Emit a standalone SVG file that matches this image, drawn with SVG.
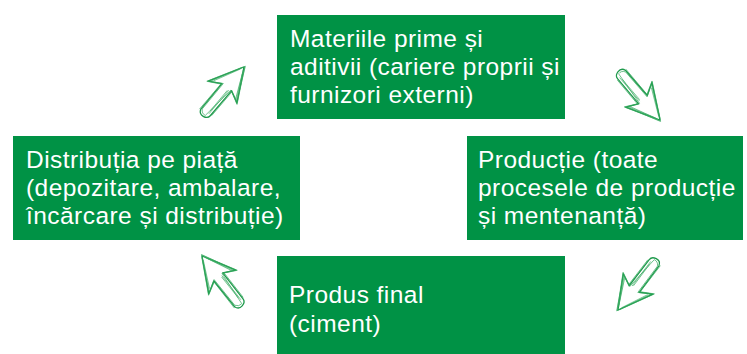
<svg xmlns="http://www.w3.org/2000/svg" width="747" height="354" viewBox="0 0 747 354">
<style>
.box{fill:#009245;}
.t{font-family:"Liberation Sans",Arial,sans-serif;font-size:24.5px;fill:#ffffff;letter-spacing:0.45px;}
.ao{fill:#ffffff;stroke:#1f9a4c;stroke-width:1.3;stroke-linejoin:round;}
.aj{fill:none;stroke:#2fa65a;stroke-width:0.9;opacity:0.7;stroke-linejoin:round;}
.ah{fill:none;stroke:#3aab62;stroke-width:0.8;opacity:0.8;stroke-linecap:round;}
</style>
<defs>
<g id="arrow">
<path class="ao" d="M0,0 L-34,-18 L-27,-6 L-60,-5.5 Q-65,-4 -64,1 Q-63,6 -59,6 L-26,6 L-32,18 Z"/>
<path class="aj" d="M1.5,0.5 L-33,-16.5 L-26,-5 L-59,-4.5 Q-63,-2 -62,2 L-26,5 L-31,17 Z"/>
<path class="aj" d="M-1,-1 L-35,-19 L-28,-6.5 L-61,-6.5 M-58,7 L-27,7 L-33,19 L0.5,0.5"/>
<path class="ah" d="M-28,3.5 L-58,3.7 M-29,2.5 L-55,2.8 M-3,1.5 L-30,15.5 M-5,2.5 L-29,14 M-4,-1.5 L-30,-14"/>
</g>
</defs>
<g id="connectors">
<use href="#arrow" transform="translate(244,67) rotate(-49.5)"/>
<use href="#arrow" transform="translate(660,120) rotate(50)"/>
<use href="#arrow" transform="translate(618,310) rotate(127.6)"/>
<use href="#arrow" transform="translate(202,256) rotate(-128)"/>
</g>
<g id="node-materii">
<rect class="box" x="277" y="15" width="288" height="104"/>
<text class="t" x="290" y="47">Materiile prime și</text>
<text class="t" x="290" y="75">aditivii (cariere proprii și</text>
<text class="t" x="290" y="103">furnizori externi)</text>
</g>
<g id="node-productie">
<rect class="box" x="467" y="136" width="276" height="104"/>
<text class="t" x="478" y="167.5">Producție (toate</text>
<text class="t" x="478" y="195.5">procesele de producție</text>
<text class="t" x="478" y="223.5">și mentenanță)</text>
</g>
<g id="node-produs">
<rect class="box" x="277" y="256" width="288" height="98"/>
<text class="t" x="289" y="303">Produs final</text>
<text class="t" x="289" y="331.5">(ciment)</text>
</g>
<g id="node-distributie">
<rect class="box" x="13" y="136" width="287" height="104"/>
<text class="t" x="26" y="167.5">Distribuția pe piață</text>
<text class="t" x="26" y="195.5">(depozitare, ambalare,</text>
<text class="t" x="26" y="223.5">încărcare și distribuție)</text>
</g>
</svg>
